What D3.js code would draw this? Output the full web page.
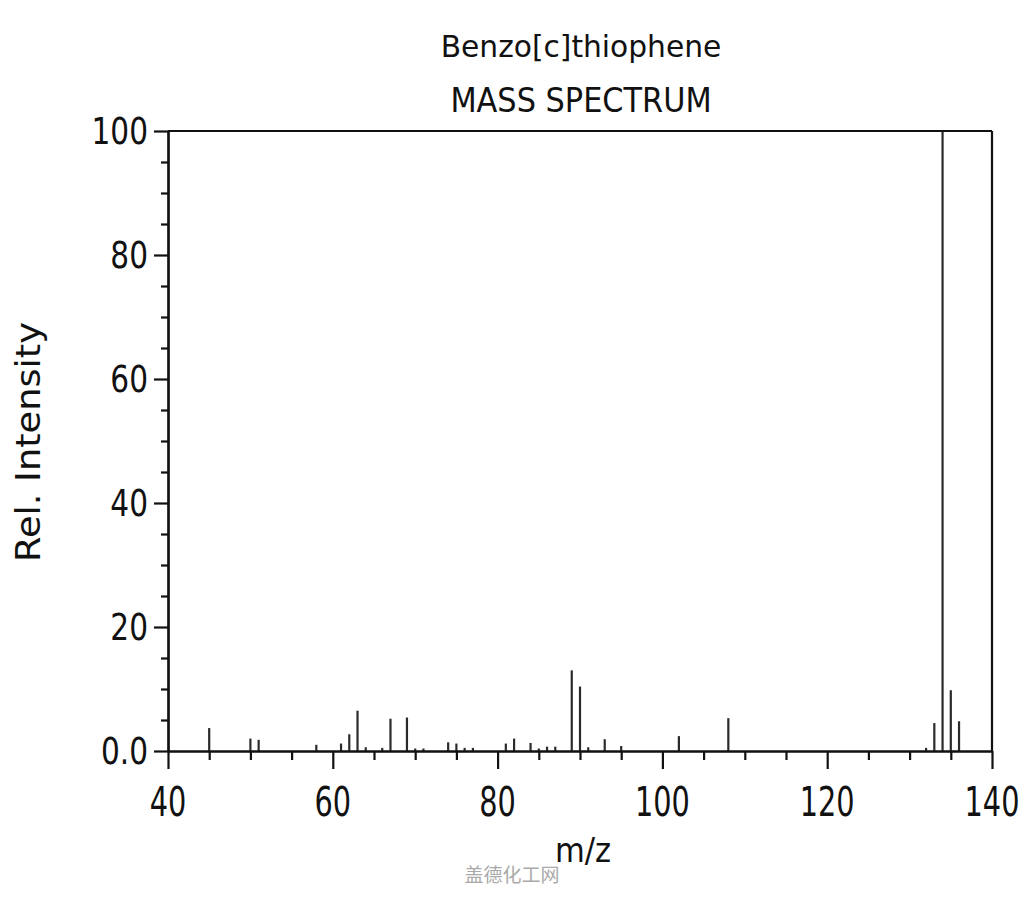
<!DOCTYPE html>
<html><head><meta charset="utf-8">
<script src="https://cdn.jsdelivr.net/npm/d3@7"></script>
<style>body{margin:0;background:#fff}svg{display:block}text{font-family:"DejaVu Sans",sans-serif;fill:#111}</style>
</head><body>
<script>
const titleLines = ["Benzo[c]thiophene", "MASS SPECTRUM"];
const xLabel = "m/z";
const yLabel = "Rel. Intensity";
const mz = [45,50,51,58,61,62,63,64,66,67,69,70,71,74,75,76,77,81,82,84,85,86,87,89,90,91,93,95,102,108,132,133,134,135,136];
const intensity = [3.7,2.0,1.8,1.0,1.2,2.7,6.5,0.6,0.5,5.2,5.4,0.4,0.4,1.4,1.2,0.5,0.5,1.2,2.0,1.3,0.4,0.7,0.7,13.0,10.4,0.6,1.9,0.8,2.4,5.3,0.5,4.5,100,9.8,4.8];
const xMajorTicks = [40,60,80,100,120,140];
const xTickLabels = ["40","60","80","100","120","140"];
const yMajorTicks = [0,20,40,60,80,100];
const yTickLabels = ["0.0","20","40","60","80","100"];
const watermark = "盖德化工网";

const W = 1024, H = 900;
const svg = d3.select("body").append("svg").attr("width", W).attr("height", H);
const x = d3.scaleLinear().domain([40,140]).range([168,992]);
const y = d3.scaleLinear().domain([0,100]).range([751,131]);

// spikes
svg.append("g").selectAll("line").data(mz).join("line")
  .attr("x1", d => x(d)).attr("x2", d => x(d))
  .attr("y1", y(0)).attr("y2", (d,i) => y(intensity[i]))
  .attr("stroke", "#2a2a2a").attr("stroke-width", 2.2);

// x axis
const xMinor = d3.range(40, 141, 5).filter(v => !xMajorTicks.includes(v));
const gx = svg.append("g").attr("transform", `translate(0,${y(0)})`);
gx.call(d3.axisBottom(x).tickValues(xMinor).tickSize(9).tickFormat("").tickSizeOuter(0));
const gx2 = svg.append("g").attr("transform", `translate(0,${y(0)})`);
gx2.call(d3.axisBottom(x).tickValues(xMajorTicks).tickSize(18).tickFormat("").tickSizeOuter(0));
// y axis
const yMinor = d3.range(0, 101, 5).filter(v => !yMajorTicks.includes(v));
const gy = svg.append("g").attr("transform", `translate(${x(40)},0)`);
gy.call(d3.axisLeft(y).tickValues(yMinor).tickSize(7).tickFormat("").tickSizeOuter(0));
const gy2 = svg.append("g").attr("transform", `translate(${x(40)},0)`);
gy2.call(d3.axisLeft(y).tickValues(yMajorTicks).tickSize(14).tickFormat("").tickSizeOuter(0));
svg.selectAll(".domain, .tick line").attr("stroke", "#111").attr("stroke-width", 2.2);

// frame top & right
svg.append("line").attr("x1", x(40)).attr("x2", x(140)).attr("y1", y(100)).attr("y2", y(100)).attr("stroke","#111").attr("stroke-width",2.2);
svg.append("line").attr("x1", x(140)).attr("x2", x(140)).attr("y1", y(100)).attr("y2", y(0)).attr("stroke","#111").attr("stroke-width",2.2);

// tick labels
xMajorTicks.forEach((v,i) => {
  svg.append("text").attr("transform", `translate(${x(v)},816) scale(0.72,1)`)
    .attr("text-anchor","middle").attr("font-size", 40).text(xTickLabels[i]);
});
yMajorTicks.forEach((v,i) => {
  svg.append("text").attr("transform", `translate(148,${y(v)+13}) scale(0.8,1)`)
    .attr("text-anchor","end").attr("font-size", 37).text(yTickLabels[i]);
});

// titles
svg.append("text").attr("transform", "translate(581,57) scale(0.99,1.03)").attr("text-anchor","middle").attr("font-size", 30).text(titleLines[0]);
svg.append("text").attr("transform", "translate(581,112) scale(0.98,1.06)").attr("text-anchor","middle").attr("font-size", 31).text(titleLines[1]);

// axis labels
svg.append("text").attr("transform", `translate(583,862) scale(0.9,1)`).attr("text-anchor","middle").attr("font-size", 34).text(xLabel);
svg.append("text").attr("transform", `translate(40,442) rotate(-90) scale(1.05,0.95)`).attr("text-anchor","middle").attr("font-size", 35).text(yLabel);

// watermark
svg.append("text").attr("x", 512).attr("y", 882).attr("text-anchor","middle").attr("font-size", 19)
  .style("font-family", "'Noto Sans CJK SC', sans-serif").style("fill", "#aaa").text(watermark);
</script>
</body></html>
